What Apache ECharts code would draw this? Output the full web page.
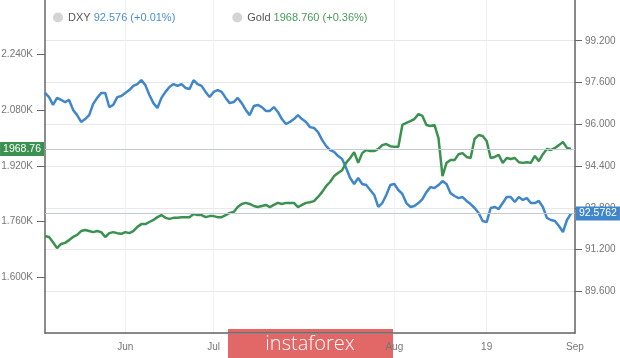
<!DOCTYPE html>
<html>
<head>
<meta charset="utf-8">
<script src="https://cdn.jsdelivr.net/npm/echarts@6/dist/echarts.min.js"></script>
<style>
html,body{margin:0;padding:0;background:#fff;}
#chart{width:620px;height:358px;}
</style>
</head>
<body>
<div id="chart"></div>
<script>
// ---- data ----
var dxy = [97.20,97.04,96.74,97.01,96.93,96.85,96.93,96.55,96.35,96.09,96.20,96.35,96.78,97.01,97.20,97.20,96.66,96.74,97.04,97.08,
97.20,97.31,97.47,97.54,97.69,97.50,97.12,96.81,96.62,97.01,97.24,97.43,97.54,97.47,97.54,97.39,97.35,97.69,97.54,97.47,
97.24,97.04,97.24,97.31,97.24,97.01,96.81,96.85,97.01,96.81,96.55,96.35,96.70,96.74,96.66,96.51,96.51,96.66,96.47,96.20,
96.01,96.09,96.20,96.35,96.20,96.09,95.89,95.86,95.70,95.40,95.17,95.01,94.94,94.78,94.67,94.32,93.94,93.71,93.94,93.71,
93.67,93.48,93.29,92.83,92.98,93.29,93.67,93.71,93.48,93.33,92.98,92.83,92.87,92.98,93.13,93.40,93.59,93.56,93.67,93.82,
93.71,93.36,93.25,93.17,93.21,93.06,92.94,92.79,92.60,92.29,92.25,92.79,92.83,92.75,92.98,93.21,93.21,93.02,93.21,93.10,
93.17,92.98,92.98,93.06,92.83,92.41,92.33,92.29,92.10,91.87,92.33,92.576];
var gold = [1719,1716,1701,1684,1696,1699,1707,1716,1722,1733,1736,1733,1730,1733,1730,1716,1727,1730,1727,1725,
1730,1727,1733,1745,1753,1753,1759,1765,1773,1779,1771,1768,1771,1771,1773,1773,1773,1782,1779,1779,
1773,1776,1776,1773,1773,1779,1785,1788,1802,1811,1814,1811,1805,1802,1805,1808,1802,1808,1814,1811,
1814,1814,1814,1802,1808,1814,1816,1819,1831,1845,1862,1874,1891,1900,1908,1929,1943,1960,1929,1957,
1966,1963,1963,1969,1980,1983,1977,1975,1975,2038,2044,2049,2055,2069,2064,2038,2035,2038,2000,1891,
1929,1937,1937,1954,1957,1946,1943,1998,2009,2006,1992,1943,1946,1952,1929,1943,1940,1943,1931,1929,
1931,1929,1949,1934,1954,1969,1966,1972,1980,1989,1972,1968.76];
var seriesNames = ['DXY', 'Gold'];
var legendValues = ['92.576', '1968.760'];
var legendChanges = ['(+0.01%)', '(+0.36%)'];
var lastLabels = ['92.5762', '1968.76'];
var lastValues = [92.576, 1968.76];
var xTickIndex = [20, 42, 87, 110, 132];
var xTickText = ['Jun', 'Jul', 'Aug', '19', 'Sep'];
var goldTicks = {min: 1440, max: 2400, interval: 160};
var dxyTicks = {min: 88.0, max: 100.8, interval: 1.6};

// ---- build ----
var nCat = dxy.length + 1;
var categories = [];
for (var i = 0; i < nCat; i++) categories.push('p' + i);
var tickMap = {};
xTickIndex.forEach(function (ix, k) { tickMap[ix] = xTickText[k]; });
function isTick(idx) { return tickMap.hasOwnProperty(idx); }

var BLUE = '#3f86cb', GREEN = '#3b9150';
var chart = echarts.init(document.getElementById('chart'), null, {renderer: 'canvas'});
chart.setOption({
  animation: false,
  backgroundColor: '#fff',
  textStyle: {fontFamily: 'Liberation Sans, Arial, sans-serif'},
  grid: {left: 45, right: 45, top: -1, height: 334, containLabel: false, outerBoundsMode: 'none'},
  legend: {
    left: 48, top: 7, itemWidth: 10, itemHeight: 10, itemGap: 57, icon: 'circle',
    selectedMode: false,
    data: [{name: seriesNames[0], itemStyle: {color: '#d4d4d4'}}, {name: seriesNames[1], itemStyle: {color: '#d4d4d4'}}],
    formatter: function (name) {
      var k = seriesNames.indexOf(name);
      var key = k === 0 ? 'b' : 'g';
      return '{n|' + name + '} {' + key + '|' + legendValues[k] + ' ' + legendChanges[k] + '}';
    },
    textStyle: {
      fontSize: 11,
      rich: {
        n: {color: '#555', fontSize: 11},
        b: {color: '#4a90d2', fontSize: 11},
        g: {color: '#4a9a5c', fontSize: 11}
      }
    }
  },
  xAxis: {
    type: 'category', data: categories, boundaryGap: false,
    axisLine: {lineStyle: {color: '#666', width: 1.5}},
    axisTick: {show: false},
    axisLabel: {interval: function (idx) { return isTick(idx); },
      formatter: function (v, idx) { return tickMap[idx] || ''; },
      color: '#777', fontSize: 10, margin: 9},
    splitLine: {show: true, interval: function (idx) { return isTick(idx); },
      lineStyle: {color: '#eef0f3', width: 1}}
  },
  yAxis: [{
    type: 'value', position: 'left', min: goldTicks.min, max: goldTicks.max, interval: goldTicks.interval,
    axisLine: {show: true, lineStyle: {color: '#666', width: 1.5}},
    axisTick: {show: true, length: 8, lineStyle: {color: '#666'}},
    axisLabel: {color: '#777', fontSize: 10, margin: 12, showMinLabel: false, showMaxLabel: false,
      formatter: function (v) { return (v / 1000).toFixed(3) + 'K'; }},
    splitLine: {show: false}
  }, {
    type: 'value', position: 'right', min: dxyTicks.min, max: dxyTicks.max, interval: dxyTicks.interval,
    axisLine: {show: true, lineStyle: {color: '#666', width: 1.5}},
    axisTick: {show: true, length: 7, lineStyle: {color: '#666'}},
    axisLabel: {color: '#777', fontSize: 10, margin: 10, showMinLabel: false, showMaxLabel: false,
      formatter: function (v) { return v.toFixed(3); }},
    splitLine: {show: true, lineStyle: {color: '#e6e8ec', width: 1}}
  }],
  series: [{
    name: seriesNames[0], type: 'line', yAxisIndex: 1, data: dxy, showSymbol: false, symbol: 'none',
    lineStyle: {color: BLUE, width: 2.5}, itemStyle: {color: BLUE},
    markLine: {silent: true, symbol: 'none', animation: false,
      lineStyle: {color: '#c4cad3', width: 1, type: 'solid'},
      label: {show: true, position: 'end', distance: 1, formatter: lastLabels[0], color: '#fff',
        backgroundColor: BLUE, padding: [2, 3, 1, 3], fontSize: 10.5},
      data: [{yAxis: lastValues[0]}]}
  }, {
    name: seriesNames[1], type: 'line', yAxisIndex: 0, data: gold, showSymbol: false, symbol: 'none',
    lineStyle: {color: GREEN, width: 2.5}, itemStyle: {color: GREEN},
    markLine: {silent: true, symbol: 'none', animation: false,
      lineStyle: {color: '#c4cad3', width: 1, type: 'solid'},
      label: {show: true, position: 'start', distance: 1, formatter: lastLabels[1], color: '#fff',
        backgroundColor: GREEN, padding: [2, 3, 1, 3], fontSize: 10.5},
      data: [{yAxis: lastValues[1]}]}
  }],
  graphic: [{
    type: 'group', left: 228, top: 329, z: 100,
    children: [
      {type: 'rect', shape: {x: 0, y: 0, width: 165, height: 29}, style: {fill: '#e26868'}},
      {type: 'text', x: 82, y: 15, style: {text: 'instaforex', fill: '#fff', font: '300 20px "Open Sans", sans-serif',
        textAlign: 'center', textVerticalAlign: 'middle'}}
    ]
  }]
});
</script>
</body>
</html>
